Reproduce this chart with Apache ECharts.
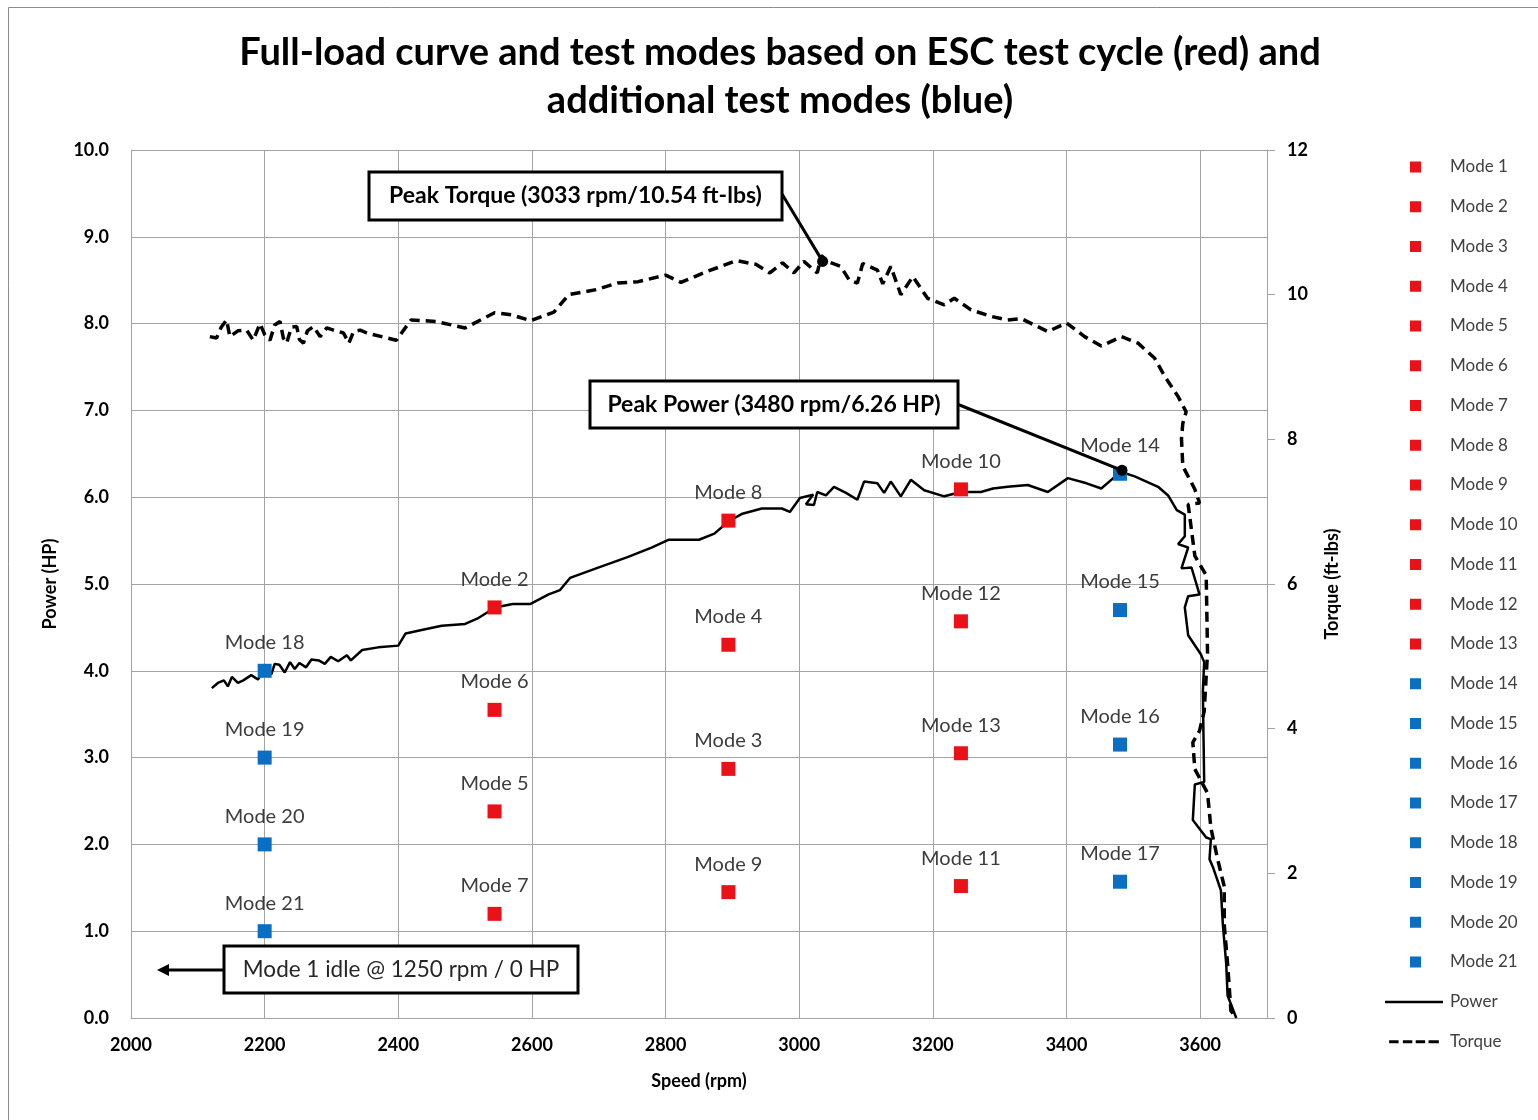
<!DOCTYPE html>
<html>
<head>
<meta charset="utf-8">
<title>Full-load curve and test modes</title>
<script src="https://cdn.jsdelivr.net/npm/echarts@6/dist/echarts.min.js"></script>
<style>
  html, body { margin: 0; padding: 0; background: #fff; }
  #chart { width: 1538px; height: 1120px; }
</style>
</head>
<body>
<div id="chart"></div>
<script>
// test modes: ESC cycle (1-13, red) + additional modes (14-21, blue)
const modeNames = ['Mode 1','Mode 2','Mode 3','Mode 4','Mode 5','Mode 6','Mode 7','Mode 8','Mode 9','Mode 10','Mode 11',
  'Mode 12','Mode 13','Mode 14','Mode 15','Mode 16','Mode 17','Mode 18','Mode 19','Mode 20','Mode 21']
const modeSpeed = [1250, 2544, 2894, 2894, 2544, 2544, 2544, 2894, 2894, 3242, 3242,
  3242, 3242, 3480, 3480, 3480, 3480, 2200, 2200, 2200, 2200]
const modePower = [0, 4.73, 2.87, 4.30, 2.38, 3.55, 1.20, 5.73, 1.45, 6.09, 1.52,
  4.57, 3.05, 6.27, 4.70, 3.15, 1.57, 4.00, 3.00, 2.00, 1.00]
const escModeCount = 13

// measured full-load curve, [rpm, HP] in trace order
const powerCurve = [
  [2121,3.80],[2130,3.86],[2139,3.89],[2145,3.82],[2151,3.93],[2160,3.86],[2168,3.89],[2180,3.95],[2190,3.90],
  [2199,4.01],[2210,3.96],[2215,4.08],[2222,4.07],[2230,3.98],[2238,4.10],[2245,4.02],[2252,4.09],[2262,4.04],
  [2270,4.13],[2281,4.12],[2290,4.08],[2299,4.16],[2310,4.11],[2323,4.18],[2329,4.12],[2346,4.24],[2370,4.27],
  [2400,4.29],[2411,4.43],[2435,4.47],[2465,4.52],[2500,4.54],[2518,4.60],[2545,4.73],[2571,4.77],[2598,4.77],
  [2625,4.88],[2642,4.93],[2657,5.07],[2696,5.18],[2743,5.31],[2779,5.42],[2805,5.51],[2850,5.51],[2873,5.58],
  [2894,5.72],[2915,5.81],[2944,5.87],[2974,5.87],[2986,5.83],[3001,5.99],[3021,6.03],[3010,5.92],[3022,5.91],
  [3027,6.06],[3040,6.02],[3052,6.12],[3070,6.05],[3087,5.97],[3097,6.18],[3117,6.16],[3127,6.05],[3137,6.18],
  [3152,6.01],[3167,6.20],[3187,6.08],[3217,6.01],[3242,6.06],[3272,6.06],[3290,6.10],[3312,6.12],[3342,6.14],
  [3372,6.06],[3402,6.22],[3430,6.16],[3452,6.10],[3470,6.22],[3482,6.29],[3502,6.24],[3537,6.12],[3552,6.02],
  [3565,5.85],[3577,5.80],[3577,5.55],[3567,5.46],[3582,5.42],[3572,5.18],[3587,5.19],[3599,4.88],[3582,4.86],
  [3577,4.73],[3582,4.41],[3601,4.19],[3606,4.10],[3604,3.76],[3606,2.72],[3592,2.69],[3589,2.28],[3609,2.08],
  [3616,2.06],[3614,1.83],[3619,1.74],[3631,1.47],[3634,1.07],[3639,0.62],[3641,0.26],[3654,0]
]
// [rpm, ft-lbs]
const torqueCurve = [
  [2118,9.42],[2128,9.40],[2135,9.55],[2143,9.65],[2148,9.42],[2160,9.50],[2173,9.51],[2183,9.37],[2193,9.60],
  [2200,9.45],[2208,9.37],[2215,9.58],[2223,9.63],[2228,9.40],[2233,9.33],[2240,9.55],[2248,9.56],[2252,9.38],
  [2258,9.33],[2264,9.50],[2273,9.56],[2283,9.42],[2293,9.54],[2303,9.51],[2318,9.47],[2326,9.33],[2333,9.49],
  [2343,9.51],[2353,9.47],[2375,9.42],[2397,9.37],[2419,9.65],[2456,9.63],[2500,9.54],[2544,9.75],[2570,9.72],
  [2598,9.64],[2633,9.76],[2655,10.00],[2696,10.07],[2728,10.16],[2759,10.18],[2800,10.27],[2823,10.17],
  [2862,10.32],[2906,10.47],[2935,10.42],[2956,10.30],[2975,10.44],[2992,10.30],[3007,10.46],[3027,10.30],
  [3033,10.54],[3045,10.45],[3062,10.39],[3075,10.20],[3087,10.16],[3095,10.43],[3117,10.34],[3125,10.15],
  [3137,10.39],[3152,10.00],[3170,10.25],[3192,9.95],[3217,9.86],[3232,9.95],[3257,9.79],[3287,9.70],
  [3312,9.65],[3332,9.67],[3372,9.49],[3400,9.61],[3427,9.42],[3452,9.29],[3482,9.42],[3507,9.33],[3532,9.12],
  [3547,8.87],[3567,8.59],[3579,8.38],[3574,8.22],[3572,8.01],[3574,7.63],[3592,7.31],[3599,7.12],[3582,7.10],
  [3592,6.39],[3609,6.12],[3611,5.05],[3606,4.24],[3599,3.97],[3589,3.81],[3592,3.44],[3611,3.11],[3616,2.63],
  [3626,2.20],[3636,1.82],[3636,1.29],[3641,0.75],[3646,0.10],[3654,0]
]

const peakTorquePoint = [3035, 10.46]
const peakPowerPoint = [3483, 6.31]
const peakTorqueText = 'Peak Torque (3033 rpm/10.54 ft-lbs)'
const peakPowerText = 'Peak Power (3480 rpm/6.26 HP)'
const idleText = 'Mode 1 idle @ 1250 rpm / 0 HP'

const speedMin = 2000, speedMax = 3700, speedStep = 200
const powerMin = 0, powerMax = 10, powerStep = 1
const torqueMin = 0, torqueMax = 12, torqueStep = 2

const FONT = 'Lato, "Open Sans", sans-serif'
const RED = '#ea1119'
const BLUE = '#0a6fc2'
const GRID = '#a3a3a3'

const chartDom = document.getElementById('chart')
const myChart = echarts.init(chartDom)

const modeSeries = modeNames.map((name, i) => ({
  name: name,
  type: 'scatter',
  symbol: 'rect',
  symbolSize: 14,
  clip: true,
  z: 5,
  itemStyle: { color: i < escModeCount ? RED : BLUE, opacity: 1 },
  label: {
    show: i > 0,
    position: 'top',
    distance: 11,
    formatter: name,
    fontFamily: FONT,
    fontSize: 20,
    color: '#3c3c3c'
  },
  data: [[modeSpeed[i], modePower[i]]]
}))

const axisLabelStyle = { fontFamily: FONT, fontSize: 18, fontWeight: 'bold', color: '#000' }
const axisNameStyle = { fontFamily: FONT, fontSize: 18, fontWeight: 'bold', color: '#000' }

const option = {
  backgroundColor: '#fff',
  animation: false,
  title: {
    text: 'Full-load curve and test modes based on ESC test cycle (red) and\nadditional test modes (blue)',
    left: 775,
    top: 24,
    textAlign: 'center',
    textStyle: { fontFamily: FONT, fontSize: 38, fontWeight: 'bold', lineHeight: 48, color: '#000' }
  },
  grid: { left: 131, right: 271, top: 150, bottom: 102, containLabel: false },
  legend: [
    {
      data: modeNames,
      orient: 'vertical',
      left: 1410,
      top: 157,
      padding: 0,
      icon: 'rect',
      itemWidth: 11,
      itemHeight: 11,
      itemGap: 19.75,
      textStyle: { fontFamily: FONT, fontSize: 17, color: '#404040', lineHeight: 20, padding: [0, 0, 0, 24] }
    },
    {
      data: [
        { name: 'Power', icon: 'path://M0,0h58v2.5h-58z' },
        { name: 'Torque', icon: 'path://M0,0h11v3.5h-11zM16,0h11v3.5h-11zM31,0h11v3.5h-11zM46,0h12v3.5h-12z' }
      ],
      orient: 'vertical',
      left: 1385,
      top: 992,
      padding: 0,
      itemWidth: 58,
      itemHeight: 3,
      itemGap: 19.75,
      textStyle: { fontFamily: FONT, fontSize: 17, color: '#404040', lineHeight: 20, padding: [0, 0, 0, 2] }
    }
  ],
  xAxis: {
    type: 'value',
    min: speedMin,
    max: speedMax,
    interval: speedStep,
    name: 'Speed (rpm)',
    nameLocation: 'middle',
    nameGap: 54,
    nameTextStyle: axisNameStyle,
    axisLine: { show: true, lineStyle: { color: GRID, width: 1 } },
    axisTick: { show: false },
    axisLabel: Object.assign({ margin: 18, formatter: v => (v === speedMax ? '' : v) }, axisLabelStyle),
    splitLine: { show: true, lineStyle: { color: GRID, width: 1 } }
  },
  yAxis: [
    {
      type: 'value',
      min: powerMin,
      max: powerMax,
      interval: powerStep,
      name: 'Power (HP)',
      nameLocation: 'middle',
      nameGap: 72,
      nameRotate: 90,
      nameTextStyle: axisNameStyle,
      axisLine: { show: true, lineStyle: { color: GRID, width: 1 } },
      axisTick: { show: false },
      axisLabel: Object.assign({ margin: 22, formatter: v => v.toFixed(1) }, axisLabelStyle),
      splitLine: { show: true, lineStyle: { color: GRID, width: 1 } }
    },
    {
      type: 'value',
      position: 'right',
      min: torqueMin,
      max: torqueMax,
      interval: torqueStep,
      name: 'Torque (ft-lbs)',
      nameLocation: 'middle',
      nameGap: 56,
      nameRotate: 90,
      nameTextStyle: axisNameStyle,
      axisLine: { show: true, lineStyle: { color: GRID, width: 1 } },
      axisTick: { show: true, inside: false, length: 8, lineStyle: { color: GRID } },
      axisLabel: Object.assign({ margin: 20 }, axisLabelStyle),
      splitLine: { show: false }
    }
  ],
  series: [
    {
      name: 'Power',
      type: 'line',
      yAxisIndex: 0,
      symbol: 'none',
      z: 3,
      lineStyle: { color: '#000', width: 2.5 },
      itemStyle: { color: '#000' },
      data: powerCurve
    },
    {
      name: 'Torque',
      type: 'line',
      yAxisIndex: 1,
      symbol: 'none',
      z: 3,
      lineStyle: { color: '#000', width: 3.5, type: [10, 6] },
      itemStyle: { color: '#000' },
      data: torqueCurve
    },
    ...modeSeries,
    {
      name: 'peakTorque',
      type: 'scatter',
      yAxisIndex: 1,
      symbol: 'circle',
      symbolSize: 11,
      z: 8,
      itemStyle: { color: '#000', opacity: 1 },
      data: [peakTorquePoint]
    },
    {
      name: 'peakPower',
      type: 'scatter',
      yAxisIndex: 0,
      symbol: 'circle',
      symbolSize: 11,
      z: 8,
      itemStyle: { color: '#000', opacity: 1 },
      data: [peakPowerPoint]
    }
  ]
}

myChart.setOption(option)

// callout boxes, leader lines hooked onto the peak points
function noteBox(x, y, w, h, text, bold, size) {
  return [
    { type: 'rect', z: 100, shape: { x: x, y: y, width: w, height: h },
      style: { fill: '#fff', stroke: '#000', lineWidth: 3 } },
    { type: 'text', z: 101, x: x + w / 2, y: y + h / 2,
      style: { text: text, fill: bold ? '#000' : '#262626', align: 'center', verticalAlign: 'middle',
        font: (bold ? 'bold ' : '') + size + 'px ' + FONT } }
  ]
}

const tq = myChart.convertToPixel({ xAxisIndex: 0, yAxisIndex: 1 }, peakTorquePoint)
const pw = myChart.convertToPixel({ xAxisIndex: 0, yAxisIndex: 0 }, peakPowerPoint)

myChart.setOption({
  graphic: [
    { type: 'rect', z: 0, silent: true, shape: { x: 8.5, y: 7.5, width: 1540, height: 1130 },
      style: { fill: 'none', stroke: '#8c8c8c', lineWidth: 1 } },
    { type: 'line', z: 99, shape: { x1: 782, y1: 194, x2: tq[0], y2: tq[1] }, style: { stroke: '#000', lineWidth: 3 } },
    { type: 'line', z: 99, shape: { x1: 957, y1: 404, x2: pw[0], y2: pw[1] }, style: { stroke: '#000', lineWidth: 3 } },
    ...noteBox(369, 172, 413, 48, peakTorqueText, true, 23),
    ...noteBox(590, 381, 368, 47, peakPowerText, true, 23),
    ...noteBox(224, 946, 354, 47, idleText, false, 22.5),
    { type: 'line', z: 99, shape: { x1: 224, y1: 970, x2: 166, y2: 970 }, style: { stroke: '#000', lineWidth: 3 } },
    { type: 'polygon', z: 99, shape: { points: [[157, 970], [169, 964], [169, 976]] }, style: { fill: '#000' } }
  ]
})

const observer = new ResizeObserver(() => {
  myChart.resize()
})
observer.observe(chartDom)
</script>
</body>
</html>
